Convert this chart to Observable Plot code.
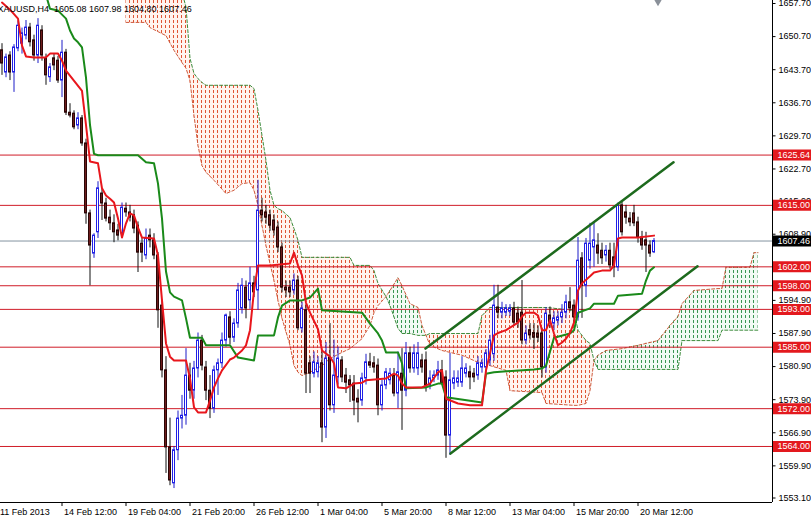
<!DOCTYPE html>
<html><head><meta charset="utf-8">
<script src="https://cdn.jsdelivr.net/npm/d3@7"></script>
<script src="https://cdn.jsdelivr.net/npm/@observablehq/plot@0.6"></script>
<style>
html,body{margin:0;padding:0;background:#fff;overflow:hidden}
#chart svg{display:block}
</style></head><body><div id="chart"></div>
<script>
const title = "XAUUSD,H4\u00a0\u00a01605.08 1607.98 1604.80 1607.46";

const open = [1647.8,1643.1,1646.7,1643.1,1648.2,1649.2,1650.9,1652.6,1649.9,1646.7,
1652.0,1646.1,1642.1,1646.1,1645.6,1641.4,1647.3,1634.6,1634.4,1631.9,
1633.4,1628.1,1613.3,1604.8,1609.3,1617.5,1615.4,1612.4,1611.2,1609.7,
1609.1,1614.3,1613.5,1612.9,1610.7,1606.9,1604.4,1608.6,1607.6,1604.4,
1593.8,1580.1,1563.8,1556.2,1563.2,1569.9,1570.5,1579.0,1575.8,1580.5,
1586.4,1580.7,1575.8,1572.0,1580.1,1581.6,1586.4,1591.3,1587.0,1590.0,
1593.2,1597.6,1594.9,1598.5,1597.0,1613.9,1613.5,1612.9,1611.8,1610.3,
1606.1,1597.6,1597.6,1597.0,1599.1,1589.0,1592.8,1581.6,1579.4,1579.7,
1581.6,1568.0,1582.8,1572.7,1578.6,1582.2,1579.0,1578.0,1577.3,1574.1,
1573.7,1578.4,1581.8,1581.6,1581.1,1572.7,1576.9,1578.0,1579.0,1575.2,
1579.4,1575.8,1583.7,1580.5,1580.5,1582.2,1582.2,1576.9,1578.4,1579.0,
1580.1,1578.6,1566.3,1577.3,1577.5,1577.5,1579.4,1579.7,1579.4,1579.0,
1580.7,1580.7,1582.2,1583.5,1593.4,1592.3,1592.3,1592.5,1593.2,1592.1,
1592.3,1586.4,1588.6,1588.0,1587.9,1587.9,1580.7,1591.7,1590.0,1590.6,
1591.3,1592.3,1594.5,1593.8,1591.3,1603.8,1598.0,1603.3,1606.1,1606.5,
1605.4,1604.4,1605.4,1604.0,1601.9,1615.0,1613.5,1612.2,1613.3,1611.4,
1608.2,1607.6,1606.5,1605.08];
const high = [1649.2,1647.0,1647.5,1649.0,1654.0,1652.5,1654.1,1653.5,1651.0,1654.5,
1653.0,1647.0,1645.0,1647.0,1646.5,1649.9,1648.0,1636.5,1635.0,1634.6,
1634.0,1629.0,1614.0,1609.0,1620.0,1618.5,1616.5,1614.0,1613.0,1611.0,
1615.5,1615.5,1615.0,1614.0,1611.5,1608.0,1610.0,1610.0,1609.0,1605.0,
1595.0,1583.0,1570.0,1564.0,1571.5,1574.8,1584.7,1581.6,1582.0,1588.0,
1587.5,1582.0,1579.0,1581.0,1582.5,1588.0,1592.0,1592.5,1591.0,1598.5,
1599.5,1599.0,1601.9,1600.0,1620.3,1616.5,1615.0,1614.0,1613.0,1611.5,
1607.0,1599.0,1599.0,1600.5,1600.0,1594.5,1594.0,1583.0,1584.0,1583.0,
1584.0,1586.0,1590.0,1586.5,1585.0,1583.0,1580.5,1579.0,1579.0,1576.0,
1579.5,1583.5,1583.7,1583.0,1582.5,1578.0,1580.5,1580.5,1580.5,1584.0,
1584.7,1586.0,1585.0,1585.5,1586.0,1583.5,1584.0,1580.0,1580.0,1582.0,
1582.2,1580.0,1583.7,1580.0,1580.0,1583.0,1581.5,1581.0,1580.5,1583.0,
1582.5,1584.5,1587.5,1598.1,1598.1,1594.5,1594.0,1594.0,1594.5,1593.5,
1599.1,1589.5,1590.0,1590.0,1589.5,1589.0,1593.4,1593.5,1592.5,1592.5,
1594.0,1596.0,1597.6,1595.0,1608.2,1605.0,1608.0,1611.2,1611.2,1609.0,
1607.0,1606.5,1607.0,1607.0,1615.5,1616.0,1615.0,1613.5,1615.0,1612.5,
1609.5,1609.3,1607.5,1607.98];
const low = [1642.5,1642.0,1641.4,1638.9,1647.5,1647.0,1650.0,1648.5,1645.5,1645.0,
1645.5,1640.4,1641.0,1643.5,1640.8,1637.8,1634.0,1633.5,1631.0,1631.0,
1627.5,1611.0,1598.0,1603.8,1608.0,1611.8,1611.5,1609.7,1607.1,1607.5,
1608.0,1612.5,1611.5,1609.0,1600.8,1602.9,1603.5,1606.0,1603.5,1589.0,
1578.5,1558.3,1555.7,1555.1,1561.0,1567.7,1568.5,1574.0,1574.0,1578.5,
1580.0,1573.7,1569.9,1571.0,1574.8,1580.5,1585.0,1585.5,1586.0,1589.0,
1592.0,1591.0,1593.0,1595.5,1592.8,1611.5,1611.0,1609.5,1608.5,1605.0,
1596.5,1595.5,1595.5,1596.0,1588.5,1588.0,1575.2,1575.2,1578.5,1578.5,
1564.8,1565.7,1571.5,1571.0,1577.0,1577.5,1575.2,1573.3,1570.5,1569.0,
1572.5,1577.0,1580.5,1579.5,1570.5,1571.5,1576.0,1577.0,1574.5,1572.0,
1567.4,1574.5,1579.5,1579.5,1579.0,1579.5,1575.5,1576.0,1577.5,1578.0,
1577.0,1561.5,1562.1,1576.0,1576.5,1576.5,1578.5,1576.0,1577.5,1578.0,
1579.5,1579.5,1581.0,1582.0,1591.0,1591.0,1591.5,1591.5,1589.5,1589.0,
1585.5,1585.5,1586.5,1584.5,1586.0,1578.5,1579.5,1589.0,1588.5,1589.5,
1590.0,1591.0,1592.5,1590.0,1590.5,1591.1,1595.5,1601.5,1601.9,1602.5,
1602.5,1603.0,1601.5,1599.7,1601.0,1608.5,1611.0,1610.5,1610.5,1607.0,
1605.5,1600.8,1604.0,1604.80];
const close = [1645.0,1646.3,1643.1,1648.4,1653.0,1651.4,1652.6,1649.5,1646.7,1653.0,
1646.7,1642.5,1644.2,1644.6,1641.4,1647.3,1634.6,1634.0,1631.5,1633.4,
1628.1,1613.3,1606.5,1608.6,1618.6,1615.4,1612.2,1611.2,1609.3,1608.6,
1614.5,1613.5,1612.4,1610.1,1605.0,1605.0,1608.0,1607.6,1604.4,1592.8,
1580.1,1563.8,1556.8,1563.2,1569.9,1570.5,1579.0,1575.8,1580.5,1586.4,
1581.1,1575.8,1572.0,1580.1,1581.6,1586.4,1591.7,1587.0,1590.0,1597.0,
1598.0,1593.2,1598.5,1596.6,1613.9,1612.9,1612.4,1610.7,1609.7,1606.1,
1597.6,1597.0,1596.6,1599.1,1589.0,1593.2,1579.4,1579.4,1581.8,1581.6,
1568.0,1582.6,1572.7,1579.0,1582.6,1578.6,1577.5,1576.9,1573.7,1573.3,
1578.4,1581.8,1581.1,1580.7,1572.7,1576.9,1579.7,1579.4,1575.2,1579.7,
1575.8,1583.7,1580.5,1583.7,1583.7,1580.7,1576.9,1578.4,1579.0,1580.1,
1577.3,1566.3,1578.0,1578.4,1578.4,1580.5,1580.5,1578.6,1578.6,1581.6,
1581.6,1583.7,1586.4,1593.8,1592.3,1593.2,1593.2,1593.2,1590.2,1590.2,
1586.4,1587.9,1587.5,1587.0,1587.0,1580.7,1592.1,1590.2,1591.1,1591.3,
1592.3,1594.5,1593.2,1591.3,1603.3,1598.0,1606.9,1606.9,1607.6,1604.8,
1603.8,1605.4,1602.3,1601.9,1615.0,1609.3,1612.4,1611.4,1611.2,1608.2,
1606.5,1606.5,1604.8,1607.46];

// Tenkan-sen (red) vertices
const tenkanIdx = [0,2,4,5,6,8,11,12,14,15,16,20,21,22,24,25,26,27,28,29,30,31,32,33,34,35,38,39,40,41,42,43,46,47,48,49,51,52,53,54,55,57,58,60,61,62,63,64,67,72,73,74,75,76,77,79,80,82,83,84,86,88,90,91,96,98,99,100,101,105,107,109,110,111,114,117,120,121,122,123,124,126,129,130,131,133,134,135,136,137,138,139,140,141,142,143,144,145,147,148,150,152,153,154,155,159,163];
const tenkanVal = [1657.9,1656.4,1654.5,1648.8,1646.5,1646.3,1646.3,1647.1,1647.1,1645.6,1643.5,1639.2,1632.0,1624.3,1623.9,1618.6,1617.1,1616.4,1615.6,1612.2,1608.2,1611.2,1613.3,1612.9,1610.3,1608.2,1608.0,1604.4,1594.9,1585.8,1583.0,1582.2,1582.2,1578.4,1572.3,1571.2,1571.2,1573.7,1576.5,1578.4,1580.1,1582.4,1582.8,1584.3,1585.4,1588.6,1597.0,1602.3,1602.3,1602.7,1605.0,1602.3,1600.2,1594.4,1592.3,1588.8,1584.3,1583.0,1581.6,1576.5,1576.3,1577.3,1577.5,1578.0,1578.4,1579.4,1579.0,1577.3,1576.5,1576.5,1577.3,1579.7,1580.1,1574.1,1573.1,1572.7,1572.7,1580.1,1583.7,1587.5,1588.0,1588.6,1590.2,1591.5,1592.3,1592.3,1591.7,1588.6,1588.6,1590.7,1587.9,1585.4,1586.0,1586.8,1588.0,1590.2,1597.0,1598.5,1600.0,1600.8,1601.2,1601.2,1602.3,1608.0,1608.2,1608.2,1608.6];

// Kijun-sen (green) vertices
const kijunIdx = [11,12,14,16,17,18,19,20,21,22,23,24,34,36,38,39,40,41,42,43,45,46,47,50,51,57,59,63,64,68,69,70,72,75,77,79,80,90,92,94,95,96,99,100,101,106,109,110,111,120,121,123,133,135,136,138,142,143,144,147,148,153,154,160,161,162,163];
const kijunVal = [1659.5,1656.6,1656.2,1654.5,1652.0,1650.3,1649.5,1648.4,1642.0,1632.0,1625.9,1625.6,1625.6,1624.1,1623.9,1619.6,1612.2,1601.0,1596.6,1595.7,1594.9,1591.1,1587.0,1587.0,1585.4,1585.4,1582.8,1582.2,1587.5,1587.5,1591.3,1593.8,1594.9,1594.9,1595.5,1597.4,1592.8,1592.3,1590.0,1587.9,1586.4,1583.9,1583.9,1581.6,1576.3,1576.5,1577.3,1577.3,1574.4,1573.3,1579.4,1579.7,1580.3,1580.5,1581.1,1587.0,1587.9,1588.6,1592.3,1593.2,1594.2,1594.2,1595.9,1596.3,1599.1,1601.2,1601.9];

// Ichimoku cloud (Senkou Span A / B), segments by colour
const cloudIdx = [31,36,37,41,43,45,46,47,48,49,50,51,53,56,58,60,62,63,64,65,66,67,68,69,70,72,73,74,75,77,80,82,85,87,88,90,92,93,94,96,
96,97,99,100,102,104,105,106,
106,107,110,115,119,120,122,126,127,135,136,143,144,146,147,148,
148,149,151,155,159,164,167,169,170,173,179,180,181,186,187,188,189];
const spanA = [1653.7,1653.7,1652.6,1650.9,1647.8,1645.2,1644.0,1641.4,1634.0,1627.7,1623.4,1622.0,1620.3,1617.5,1618.2,1619.6,1619.8,1618.2,1615.0,1610.7,1606.5,1602.7,1599.1,1594.9,1591.1,1585.4,1581.1,1579.7,1579.0,1579.7,1581.1,1582.6,1583.9,1584.7,1585.4,1586.8,1589.6,1592.3,1593.8,1595.7,
1595.7,1597.0,1599.7,1598.0,1594.2,1593.4,1589.6,1587.5,
1587.5,1585.4,1584.3,1583.3,1581.8,1581.8,1581.1,1580.1,1575.8,1575.4,1573.1,1572.7,1572.7,1573.1,1575.8,1582.2,
1582.2,1583.3,1584.3,1584.7,1585.4,1586.4,1589.6,1591.5,1594.2,1597.0,1597.4,1597.4,1601.9,1601.9,1601.9,1605.0,1605.0];
const spanB = [1666,1666,1666,1664,1662,1660,1657.0,1646.1,1642.9,1641.8,1641.0,1640.4,1640.4,1640.4,1640.4,1640.4,1640.4,1639.7,1635.1,1629.8,1624.5,1618.2,1615.0,1614.3,1613.9,1612.4,1610.1,1607.6,1604.0,1604.0,1604.0,1604.0,1604.0,1604.0,1602.3,1602.3,1602.3,1601.2,1598.5,1595.7,
1595.7,1593.8,1589.0,1587.9,1587.9,1587.5,1587.5,1587.5,
1587.5,1587.9,1587.9,1587.9,1587.9,1591.7,1593.4,1593.4,1593.4,1593.4,1593.4,1592.8,1588.6,1586.4,1585.8,1582.2,
1582.2,1580.3,1580.3,1580.3,1580.3,1580.3,1580.3,1580.3,1586.4,1586.4,1586.4,1588.6,1588.6,1588.6,1588.6,1588.6,1588.6];
const cloudSeg = [...Array(40).fill("r1"), ...Array(8).fill("g1"), ...Array(16).fill("r2"), ...Array(17).fill("g2")];

const levels = [1625.64,1615.00,1602.00,1598.00,1593.00,1585.00,1572.00,1564.00];
const lastPrice = 1607.46;
const yTicks = [1657.70,1650.70,1643.70,1636.70,1629.70,1622.70,1615.90,1608.90,1601.90,1594.90,1587.90,1580.90,1573.90,1566.90,1559.90,1553.10];
const xTickIdx = [-1,15,31,47,63,79,95,111,127,143,159];
const xTickLabels = ["11 Feb 2013","14 Feb 12:00","19 Feb 04:00","21 Feb 20:00","26 Feb 12:00","1 Mar 04:00","5 Mar 20:00","8 Mar 12:00","13 Mar 04:00","15 Mar 20:00","20 Mar 12:00"];
const channelUpperIdx = [105.875,167.875], channelUpperVal = [1584.7,1624.1];
const channelLowerIdx = [112.125,173.875], channelLowerVal = [1562.5,1602.1];
const markerIdx = 164, markerVal = 1658.5;

// ---- build tables
const candles = open.map((o,i)=>({i, o, h: high[i], l: low[i], c: close[i]}));
const bull = candles.filter(d=>d.c>=d.o), bear = candles.filter(d=>d.c<d.o);
const tenkan = tenkanIdx.map((i,k)=>({i, v: tenkanVal[k]}));
const kijun = kijunIdx.map((i,k)=>({i, v: kijunVal[k]}));
const cloud = cloudIdx.map((i,k)=>({i, a: spanA[k], b: spanB[k], seg: cloudSeg[k]}));
const xt = xTickIdx.map((i,k)=>({i, label: xTickLabels[k]}));
const chU = channelUpperIdx.map((i,k)=>({i, v: channelUpperVal[k]}));
const chL = channelLowerIdx.map((i,k)=>({i, v: channelLowerVal[k]}));

const xl = -0.375, xr = 192.625;          // 4 px per bar
const yMin = 1552.15, yMax = 1658.335;
const boxX1 = 192.875, boxX2 = 202.6, tickX2 = 193.5;
const levelRed = "#d01c28";
const font = "'Liberation Sans', Arial, sans-serif";

const svg = Plot.plot({
  width: 811, height: 516,
  marginLeft: 0, marginRight: 39, marginTop: 0, marginBottom: 14,
  x: {domain: [xl, xr], axis: null},
  y: {domain: [yMin, yMax], axis: null},
  style: {fontFamily: font, fontSize: "9px", background: "#ffffff", color: "#000"},
  marks: [
    Plot.areaY(cloud.filter(d=>d.seg[0]==="r"), {x:"i", y1:"a", y2:"b", z:"seg", fill:"#fe0001"}),
    Plot.areaY(cloud.filter(d=>d.seg[0]==="g"), {x:"i", y1:"a", y2:"b", z:"seg", fill:"#00fe01"}),
    Plot.line(cloud, {x:"i", y:"a", stroke:"#cf5a3c", strokeWidth:1, strokeDasharray:"3,2"}),
    Plot.line(cloud, {x:"i", y:"b", stroke:"#3c8c3c", strokeWidth:1, strokeDasharray:"3,2"}),
    Plot.ruleY(levels, {stroke: levelRed, strokeWidth: 1}),
    Plot.ruleY([lastPrice], {stroke: "#8393a0", strokeWidth: 1}),
    Plot.ruleX(bear, {x:"i", y1:"l", y2:"h", stroke:"#111", strokeWidth:1}),
    Plot.ruleX(bull, {x:"i", y1:"l", y2:"h", stroke:"#1c1cc8", strokeWidth:1}),
    Plot.rect(bear, {x1: d=>d.i-0.25, x2: d=>d.i+0.25, y1:"o", y2:"c", fill:"#6e1c1c", stroke:"#2a0606", strokeWidth:1}),
    Plot.rect(bull, {x1: d=>d.i-0.25, x2: d=>d.i+0.25, y1:"o", y2:"c", fill:"#ffffff", stroke:"#1f1fe6", strokeWidth:1}),
    Plot.line(kijun, {x:"i", y:"v", stroke:"#1a8a1a", strokeWidth:2}),
    Plot.line(tenkan, {x:"i", y:"v", stroke:"#e8161c", strokeWidth:2}),
    Plot.line(chU, {x:"i", y:"v", stroke:"#1d6a1d", strokeWidth:2.5}),
    Plot.line(chL, {x:"i", y:"v", stroke:"#1d6a1d", strokeWidth:2.5}),
    Plot.dot([markerIdx], {x: d=>d, y: ()=>markerVal, symbol:"diamond", r:4, fill:"#8a9099"}),
    // axes
    Plot.ruleX([xr], {stroke:"#000", strokeWidth:1}),
    Plot.ruleY([yMin], {stroke:"#000", strokeWidth:1}),
    Plot.ruleY(yTicks, {y: d=>d, x1: xr, x2: tickX2, stroke:"#000"}),
    Plot.text(yTicks, {y: d=>d, text: d=>d.toFixed(2), frameAnchor:"right", dx:6, textAnchor:"start", fill:"#000", fontSize:9}),
    Plot.ruleX(xt, {x:"i", y1: yMin, y2: yMin-0.85, stroke:"#000"}),
    Plot.text(xt, {x:"i", text:"label", frameAnchor:"bottom", dx:2, dy:12, textAnchor:"start", lineAnchor:"bottom", fill:"#000", fontSize:9}),
    // price boxes
    Plot.ruleY(levels, {y: d=>d, x1: boxX1, x2: boxX2, stroke:"#e3191e", strokeWidth:11}),
    Plot.ruleY([lastPrice], {y: d=>d, x1: boxX1, x2: boxX2, stroke:"#000", strokeWidth:11}),
    Plot.text([...levels, lastPrice], {y: d=>d, text: d=>d.toFixed(2), frameAnchor:"right", dx:5, textAnchor:"start", fill:"#fff", fontSize:9}),
    // title
    Plot.text([title], {frameAnchor:"top-left", dx:-3, dy:11, textAnchor:"start", lineAnchor:"bottom", fill:"#000", fontSize:9})
  ]
});

// hatch patterns for the cloud (vertical dashed columns, one per bar)
const defs = d3.select(svg).insert("defs", ":first-child");
function pat(id, bg, fg) {
  const p = defs.append("pattern").attr("id", id).attr("patternUnits","userSpaceOnUse")
    .attr("x",0).attr("y",0).attr("width",4).attr("height",5);
  p.append("rect").attr("width",4).attr("height",5).attr("fill",bg);
  p.append("rect").attr("x",1).attr("y",0).attr("width",1).attr("height",3).attr("fill",fg);
}
pat("cloudRed", "#fff4ef", "#df5434");
pat("cloudGreen", "#f2faf4", "#3a9552");
d3.select(svg).selectAll('[fill="#fe0001"]').attr("fill","url(#cloudRed)");
d3.select(svg).selectAll('[fill="#00fe01"]').attr("fill","url(#cloudGreen)");

document.getElementById("chart").appendChild(svg);
</script>
</body></html>
